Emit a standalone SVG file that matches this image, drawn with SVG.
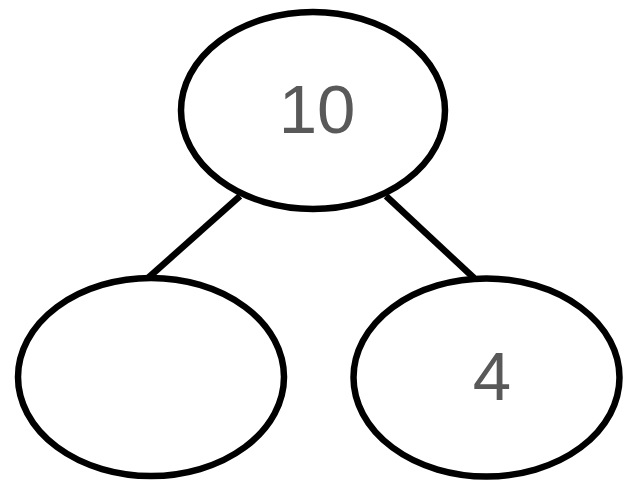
<svg xmlns="http://www.w3.org/2000/svg" width="640" height="489" viewBox="0 0 640 489">
<style>
.node{fill:#fff;stroke:#000;stroke-width:6.5}
.edge{stroke:#000;stroke-width:6.5;fill:none}
.lbl{font-family:"Liberation Sans","DejaVu Sans",sans-serif;font-size:69px;fill:#595959;text-anchor:middle}
</style>
<rect width="640" height="489" fill="#fff"/>
<g id="connectors">
<line class="edge" x1="240" y1="196" x2="148" y2="278"/>
<line class="edge" x1="386" y1="196" x2="474" y2="278"/>
</g>
<g id="node-10">
<ellipse class="node" cx="313" cy="110.5" rx="132" ry="98.5"/>
<text class="lbl" x="317" y="133">10</text>
</g>
<g id="node-left">
<ellipse class="node" cx="151" cy="377" rx="133" ry="99"/>
</g>
<g id="node-4">
<ellipse class="node" cx="486.5" cy="377.5" rx="133" ry="99"/>
<text class="lbl" x="492" y="400">4</text>
</g>
</svg>
